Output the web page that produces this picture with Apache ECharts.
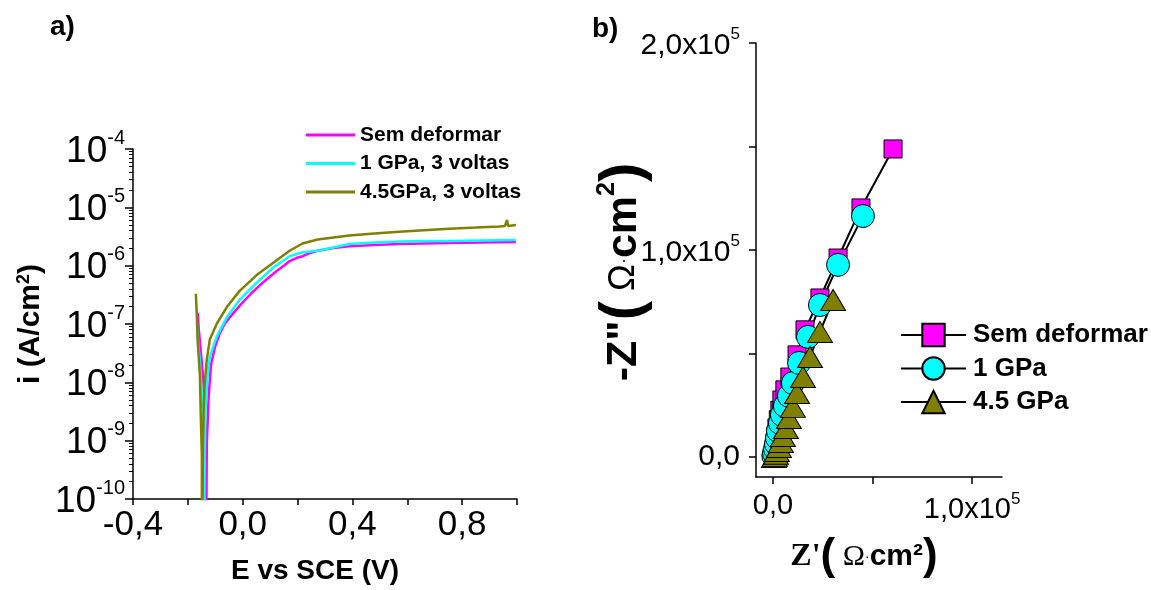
<!DOCTYPE html>
<html><head><meta charset="utf-8">
<script src="https://cdn.jsdelivr.net/npm/echarts@6/dist/echarts.min.js"></script>
<style>html,body{margin:0;padding:0;background:#fff}#c{width:1151px;height:590px}</style>
</head><body><div id="c"></div>
<script>
// ---------- Panel a) polarization curves ----------
const semE = [-0.164,-0.160,-0.156,-0.150,-0.145,-0.140,-0.138,-0.135,-0.135,-0.133,-0.131,-0.124,-0.116,-0.113,-0.100,-0.084,-0.066,-0.047,-0.024,0.000,0.030,0.062,0.092,0.124,0.150,0.171,0.195,0.218,0.245,0.273,0.330,0.389,0.480,0.571,0.660,0.753,0.870,0.996];
const semI = [1.55e-7,8.0e-8,5.0e-8,2.4e-8,1.3e-8,5.0e-9,2.7e-9,5.8e-10,1e-12,1e-12,8.5e-10,5.9e-9,1.9e-8,2.3e-8,4.2e-8,6.8e-8,1.0e-7,1.3e-7,1.75e-7,2.35e-7,3.3e-7,4.6e-7,6.1e-7,8.1e-7,1.0e-6,1.2e-6,1.35e-6,1.45e-6,1.65e-6,1.8e-6,2.0e-6,2.15e-6,2.25e-6,2.35e-6,2.4e-6,2.45e-6,2.5e-6,2.55e-6];
const gpa1E = [-0.167,-0.162,-0.156,-0.149,-0.144,-0.142,-0.142,-0.140,-0.138,-0.135,-0.127,-0.120,-0.095,-0.058,-0.011,0.051,0.109,0.171,0.218,0.273,0.330,0.389,0.480,0.571,0.660,0.753,0.870,0.996];
const gpa1I = [1.07e-7,4.5e-8,2.3e-8,5.9e-9,1.8e-9,8.5e-10,1e-12,1e-12,8.5e-10,4.0e-9,1.55e-8,2.75e-8,6.0e-8,1.3e-7,2.6e-7,5.1e-7,9.1e-7,1.45e-6,1.7e-6,1.8e-6,2.05e-6,2.35e-6,2.5e-6,2.6e-6,2.65e-6,2.65e-6,2.7e-6,2.75e-6];
const gpa45E = [-0.171,-0.167,-0.164,-0.156,-0.153,-0.149,-0.149,-0.147,-0.145,-0.142,-0.138,-0.131,-0.120,-0.095,-0.058,-0.011,0.051,0.109,0.171,0.218,0.273,0.389,0.480,0.571,0.660,0.753,0.850,0.935,0.956,0.964,0.967,0.996];
const gpa45I = [3.3e-7,1.3e-7,5.0e-8,1.3e-8,2.7e-9,5.8e-10,1e-12,1e-12,8.5e-10,4.0e-9,1.05e-8,2.45e-8,5.4e-8,1.0e-7,1.95e-7,3.7e-7,6.9e-7,1.1e-6,1.8e-6,2.4e-6,2.8e-6,3.3e-6,3.55e-6,3.8e-6,4.05e-6,4.3e-6,4.5e-6,4.7e-6,4.8e-6,6.1e-6,4.8e-6,5.0e-6];
const curveNames = ['Sem deformar','1 GPa, 3 voltas','4.5GPa, 3 voltas'];
const curveColors = ['#ff00ff','#00ffff','#808000'];
const eTicks = [-0.4,-0.2,0.0,0.2,0.4,0.6,0.8,1.0];
const eLabels = [-0.4,0.0,0.4,0.8];
const iDecades = [1e-10,1e-9,1e-8,1e-7,1e-6,1e-5,1e-4];

// ---------- Panel b) Nyquist plots ----------
const semZre = [300,600,1000,1500,2000,2700,3500,4500,6000,8500,12100,16100,23600,32700,44200,60300];
const semZim = [1200,3500,6500,10000,14000,18000,22500,27500,32400,38600,49300,61400,76800,96100,120300,148800];
const gpa1Zre = [200,500,1000,1500,2000,2500,3500,4500,6000,8000,10000,13100,17600,23600,32700,45200];
const gpa1Zim = [500,1900,3900,6300,9200,12600,16400,20300,24600,29500,35700,45400,58000,73400,92800,116400];
const gpa45Zre = [500,1000,1500,2000,3000,4000,5000,6500,8000,10000,12100,15100,18600,23600,30200];
const gpa45Zim = [0,500,1500,2900,4800,7200,10100,14000,18800,24200,30900,38600,48300,60400,75800];
const nyqNames = ['Sem deformar','1 GPa','4.5 GPa'];
const zTicks = [0,50000,100000,150000,200000];
const zLabelsY = [0,100000,200000];
const zTicksX = [0,50000,100000];
const zLabelsX = [0,100000];

const minorTicks = [];
for (let k = 0; k < iDecades.length - 1; k++) for (let m = 2; m <= 9; m++) minorTicks.push(m * iDecades[k]);

const zip = (a, b) => a.map((v, i) => [v, b[i]]);
const FONT = 'Liberation Sans';
const black = '#000';

function sciLabel(v) {
  if (v === 0) return '{b|0,0}';
  const e = Math.floor(Math.log10(v) + 1e-9);
  const m = v / Math.pow(10, e);
  return '{b|' + m.toFixed(1).replace('.', ',') + 'x10}{s|' + e + '}';
}

const chart = echarts.init(document.getElementById('c'), null, {renderer: 'canvas'});
const option = {
  backgroundColor: '#fff',
  animation: false,
  textStyle: {fontFamily: FONT, color: black},
  graphic: [
    {type: 'text', left: 50, top: 13, style: {text: 'a)', font: 'bold 28px "Liberation Sans"', fill: black}},
    {type: 'text', left: 592, top: 15, style: {text: 'b)', font: 'bold 28px "Liberation Sans"', fill: black}}
  ],
  grid: [
    {left: 133, top: 149, width: 384, height: 356},
    {left: 756, top: 43, width: 246, height: 434}
  ],
  legend: [
    {
      data: curveNames.map((n, i) => ({name: n, itemStyle: {color: curveColors[i], borderWidth: 0}})),
      left: 301, top: 119, orient: 'vertical',
      icon: 'rect', itemWidth: 49, itemHeight: 3, itemGap: 6.5,
      textStyle: {fontFamily: FONT, fontWeight: 'bold', fontSize: 21, lineHeight: 22, color: black, padding: [0,0,0,0]}
    },
    {
      data: nyqNames, left: 895, top: 317, orient: 'vertical',
      itemWidth: 65, itemHeight: 28, itemGap: 7.5,
      textStyle: {fontFamily: FONT, fontWeight: 'bold', fontSize: 26, color: black, padding: [0,0,0,2]}
    }
  ],
  xAxis: [
    {
      gridIndex: 0, type: 'value', min: eTicks[0], max: eTicks[eTicks.length - 1], interval: 0.2,
      axisLine: {onZero: false, lineStyle: {color: black, width: 1.5}},
      axisTick: {length: 6, lineStyle: {color: black, width: 1.5}},
      splitLine: {show: false},
      axisLabel: {
        fontFamily: FONT, fontSize: 35, color: black, margin: 9,
        formatter: v => {
          const hit = eLabels.find(l => Math.abs(l - v) < 1e-6);
          return hit === undefined ? '' : hit.toFixed(1).replace('.', ',');
        }
      },
      name: 'E vs SCE (V)', nameLocation: 'middle', nameGap: 58,
      nameTextStyle: {fontFamily: FONT, fontWeight: 'bold', fontSize: 28, color: black, padding: [0, 20, 0, 0]}
    },
    {
      gridIndex: 1, type: 'value', min: -8500, max: 115000,
      axisLine: {onZero: false, lineStyle: {color: black, width: 1.5}},
      axisTick: {length: 7, customValues: zTicksX, lineStyle: {color: black, width: 1.5}},
      splitLine: {show: false},
      axisLabel: {
        customValues: zLabelsX, margin: 14, formatter: sciLabel,
        rich: {
          b: {fontFamily: FONT, fontSize: 29, color: black, verticalAlign: 'bottom'},
          s: {fontFamily: FONT, fontSize: 17, color: black, verticalAlign: 'top', padding: [0, 0, 16, 0]}
        }
      },
      name: '{z|Z\'}{p|(}{o| Ω}{d|·}{c|cm²}{p|)}', nameLocation: 'middle', nameGap: 58,
      nameTextStyle: {
        padding: [0, 30, 0, 0],
        rich: {
          z: {fontFamily: 'Liberation Serif', fontWeight: 'bold', fontSize: 32, color: black},
          p: {fontFamily: FONT, fontWeight: 'bold', fontSize: 44, color: black},
          o: {fontFamily: 'Liberation Serif', fontSize: 30, color: black},
          d: {fontFamily: FONT, fontSize: 14, color: black},
          c: {fontFamily: FONT, fontWeight: 'bold', fontSize: 30, color: black}
        }
      }
    }
  ],
  yAxis: [
    {
      gridIndex: 0, type: 'log', logBase: 10, min: iDecades[0], max: iDecades[iDecades.length - 1], position: 'left',
      axisLine: {show: true, onZero: false, lineStyle: {color: black, width: 1.5}},
      axisTick: {show: true, length: 8, lineStyle: {color: black, width: 1.5}},
      splitLine: {show: false},
      axisLabel: {
        margin: 8,
        formatter: v => '{b|10}{s|' + Math.round(Math.log10(v)) + '}',
        rich: {
          b: {fontFamily: FONT, fontSize: 37, color: black, verticalAlign: 'bottom'},
          s: {fontFamily: FONT, fontSize: 20, color: black, verticalAlign: 'top', padding: [0, 0, 22, 0]}
        }
      },
      name: 'i (A/cm{s|2})', nameLocation: 'middle', nameGap: 86,
      nameTextStyle: {
        fontFamily: FONT, fontWeight: 'bold', fontSize: 30, color: black,
        rich: {s: {fontFamily: FONT, fontWeight: 'bold', fontSize: 18, color: black, verticalAlign: 'top', padding: [0, 0, 14, 0]}}
      }
    },
    {
      gridIndex: 0, type: 'log', logBase: 10, min: iDecades[0], max: iDecades[iDecades.length - 1], position: 'left',
      axisLine: {show: false, onZero: false},
      axisTick: {show: true, length: 4, customValues: minorTicks, lineStyle: {color: black, width: 1}},
      axisLabel: {show: false},
      splitLine: {show: false}
    },
    {
      gridIndex: 1, type: 'value', min: -9700, max: 200000, position: 'left',
      axisLine: {show: true, onZero: false, lineStyle: {color: black, width: 1.5}},
      axisTick: {show: true, length: 7, customValues: zTicks, lineStyle: {color: black, width: 1.5}},
      splitLine: {show: false},
      axisLabel: {
        customValues: zLabelsY, margin: 16, formatter: sciLabel,
        rich: {
          b: {fontFamily: FONT, fontSize: 30, color: black, verticalAlign: 'bottom'},
          s: {fontFamily: FONT, fontSize: 17, color: black, verticalAlign: 'top', padding: [0, 0, 18, 0]}
        }
      },
      name: '{a|-Z"}{p|(}{o| Ω}{d|·}{a|cm}{s|2}{p|)}', nameLocation: 'middle', nameGap: 103,
      nameMoveOverlap: false,
      nameTextStyle: {
        padding: [0, 24, 0, 0],
        rich: {
          a: {fontFamily: FONT, fontWeight: 'bold', fontSize: 43, color: black},
          p: {fontFamily: FONT, fontWeight: 'bold', fontSize: 58, color: black},
          o: {fontFamily: FONT, fontSize: 36, color: black},
          d: {fontFamily: FONT, fontSize: 18, color: black},
          s: {fontFamily: FONT, fontWeight: 'bold', fontSize: 25, color: black, verticalAlign: 'top', padding: [0, 0, 24, 0]}
        }
      }
    }
  ],
  series: [
    {name: nyqNames[0], type: 'line', xAxisIndex: 1, yAxisIndex: 2, data: zip(semZre, semZim), symbol: 'rect', symbolSize: 18, showAllSymbol: true,
      itemStyle: {color: '#ff00ff', borderColor: black, borderWidth: 1}, lineStyle: {color: black, width: 2}},
    {name: nyqNames[1], type: 'line', xAxisIndex: 1, yAxisIndex: 2, data: zip(gpa1Zre, gpa1Zim), symbol: 'circle', symbolSize: 23, showAllSymbol: true,
      itemStyle: {color: '#00ffff', borderColor: black, borderWidth: 1}, lineStyle: {color: black, width: 2}},
    {name: nyqNames[2], type: 'line', xAxisIndex: 1, yAxisIndex: 2, data: zip(gpa45Zre, gpa45Zim), symbol: 'triangle', symbolSize: [25, 21], showAllSymbol: true,
      itemStyle: {color: '#808000', borderColor: black, borderWidth: 1}, lineStyle: {color: black, width: 2}},
    {name: curveNames[0], type: 'line', xAxisIndex: 0, yAxisIndex: 0, data: zip(semE, semI), symbol: 'none', color: curveColors[0], lineStyle: {width: 2.5, color: curveColors[0]}, clip: true},
    {name: curveNames[1], type: 'line', xAxisIndex: 0, yAxisIndex: 0, data: zip(gpa1E, gpa1I), symbol: 'none', color: curveColors[1], lineStyle: {width: 2.5, color: curveColors[1]}, clip: true},
    {name: curveNames[2], type: 'line', xAxisIndex: 0, yAxisIndex: 0, data: zip(gpa45E, gpa45I), symbol: 'none', color: curveColors[2], lineStyle: {width: 2.5, color: curveColors[2]}, clip: true}
  ]
};
chart.setOption(option);
</script>
</body></html>
